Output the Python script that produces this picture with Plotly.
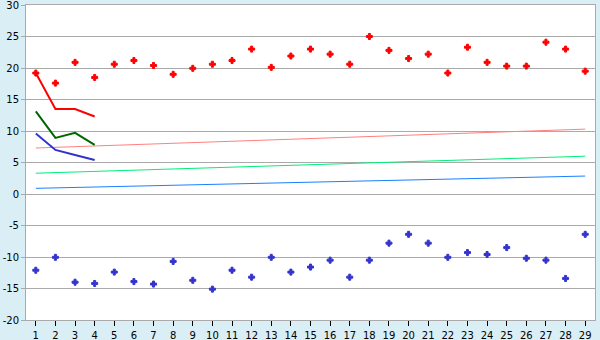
import plotly.graph_objects as go

days = list(range(1, 30))
max_vals = [19.2, 17.6, 20.9, 18.5, 20.6, 21.2, 20.4, 19.0, 19.95, 20.6,
            21.2, 23.0, 20.1, 21.9, 23.0, 22.2, 20.6, 25.0, 22.8, 21.5,
            22.2, 19.2, 23.3, 20.9, 20.3, 20.3, 24.1, 23.0, 19.5]
min_vals = [-12.1, -10.05, -14.0, -14.2, -12.4, -13.9, -14.3, -10.7, -13.7, -15.1,
            -12.1, -13.2, -10.05, -12.4, -11.6, -10.5, -13.2, -10.5, -7.8, -6.4,
            -7.8, -10.05, -9.3, -9.6, -8.5, -10.2, -10.5, -13.4, -6.4]

short_x = [1, 2, 3, 4]
red_line = [19.2, 13.5, 13.5, 12.3]
green_line = [13.1, 8.9, 9.7, 7.8]
blue_line = [9.6, 7.0, 6.2, 5.4]

trend_x = [1, 29]
trend_pink = [7.3, 10.3]
trend_green = [3.3, 6.0]
trend_blue = [0.9, 2.85]

y_ticks = list(range(-20, 31, 5))
y_labels = [str(v) for v in y_ticks]

fig = go.Figure()
fig.add_trace(go.Scatter(x=trend_x, y=trend_pink, mode="lines",
                         line=dict(color="#ff8080", width=1)))
fig.add_trace(go.Scatter(x=trend_x, y=trend_green, mode="lines",
                         line=dict(color="#00ee77", width=1)))
fig.add_trace(go.Scatter(x=trend_x, y=trend_blue, mode="lines",
                         line=dict(color="#1a80ff", width=1)))
fig.add_trace(go.Scatter(x=short_x, y=red_line, mode="lines",
                         line=dict(color="#ff0000", width=2)))
fig.add_trace(go.Scatter(x=short_x, y=green_line, mode="lines",
                         line=dict(color="#006600", width=2)))
fig.add_trace(go.Scatter(x=short_x, y=blue_line, mode="lines",
                         line=dict(color="#3333cc", width=2)))
fig.add_trace(go.Scatter(x=days, y=max_vals, mode="markers",
                         marker=dict(symbol="cross", size=5, color="#ff0000",
                                     line=dict(width=1, color="#ff0000"))))
fig.add_trace(go.Scatter(x=days, y=min_vals, mode="markers",
                         marker=dict(symbol="cross", size=5, color="#3333cc",
                                     line=dict(width=1, color="#3333cc"))))

fig.update_layout(
    width=600, height=340,
    margin=dict(l=26, r=5, t=5, b=20, autoexpand=False),
    paper_bgcolor="#d9eff5",
    plot_bgcolor="#ffffff",
    showlegend=False,
    font=dict(family="DejaVu Sans", size=10, color="#000000"),
)
fig.update_xaxes(
    range=[0.5, 29.5], tickvals=days, ticktext=[str(d) for d in days],
    showgrid=False, zeroline=False, automargin=False,
    showline=True, linecolor="#aaaaaa", linewidth=1, mirror=True,
    ticks="outside", ticklen=5, tickcolor="#000000", tickwidth=1,
    ticklabelstandoff=1, ticklabeloverflow="allow",
    tickfont=dict(size=10),
)
fig.update_yaxes(
    range=[-20, 30], tickvals=y_ticks, ticktext=y_labels,
    showgrid=True, gridcolor="#aaaaaa", gridwidth=1,
    zeroline=True, zerolinecolor="#aaaaaa", zerolinewidth=1, automargin=False,
    showline=True, linecolor="#aaaaaa", linewidth=1, mirror=True,
    ticks="outside", ticklen=4, tickcolor="#aaaaaa", tickwidth=1,
    ticklabeloverflow="allow",
    tickfont=dict(size=10),
)

fig.write_html("out.html")
